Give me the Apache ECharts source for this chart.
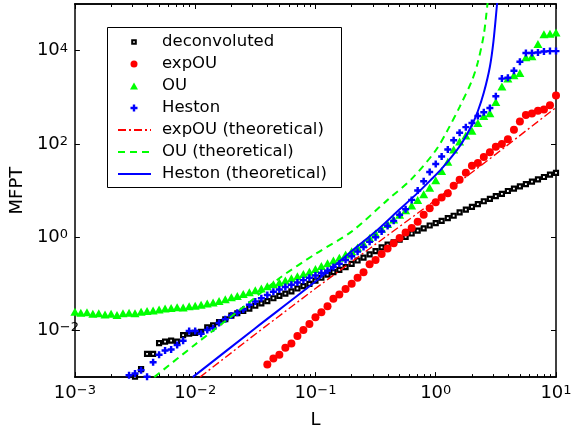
<!DOCTYPE html>
<html><head><meta charset="utf-8">
<script src="https://cdn.jsdelivr.net/npm/echarts@6/dist/echarts.min.js"></script>
<style>html,body{margin:0;padding:0;background:#fff}#c{width:579px;height:434px}</style>
</head><body><div id="c"></div>
<script>
// shared L grid (simulation points)
const L = [0.001,0.00112,0.00126,0.00141,0.00158,0.00178,0.002,0.00224,0.00251,0.00282,0.00316,0.00355,0.00398,0.00447,0.00501,0.00562,0.00631,0.00708,0.00794,0.00891,
0.01,0.0112,0.0126,0.0141,0.0158,0.0178,0.02,0.0224,0.0251,0.0282,0.0316,0.0355,0.0398,0.0447,0.0501,0.0562,0.0631,0.0708,0.0794,0.0891,
0.1,0.112,0.126,0.141,0.158,0.178,0.2,0.224,0.251,0.282,0.316,0.355,0.398,0.447,0.501,0.562,0.631,0.708,0.794,0.891,
1,1.12,1.26,1.41,1.58,1.78,2,2.24,2.51,2.82,3.16,3.55,3.98,4.47,5.01,5.62,6.31,7.08,7.94,8.91,10];

const deconvoluted = [null,null,null,null,null,null,null,null,null,null,
0.00102,0.00148,0.00316,0.00316,0.00537,0.00575,0.00603,0.00575,0.00794,0.00851,
0.00891,0.00933,0.0117,0.0129,0.0151,0.0174,0.0209,0.0234,0.0263,0.0295,
0.0339,0.0380,0.0427,0.0490,0.0550,0.0617,0.0692,0.0794,0.0891,0.100,
0.117,0.135,0.158,0.178,0.200,0.229,0.269,0.316,0.363,0.427,
0.501,0.603,0.692,0.776,0.891,1.02,1.20,1.38,1.55,1.78,
2.00,2.24,2.57,2.88,3.39,3.89,4.47,5.13,5.89,6.61,
7.59,8.51,9.77,11.0,12.3,13.8,15.5,17.4,19.5,21.9,24.0];

const expOU = [null,null,null,null,null,null,null,null,null,null,
null,null,null,null,null,null,null,null,null,null,
null,null,null,null,null,null,null,null,null,null,
null,null,0.00186,0.00251,0.00302,0.00427,0.00525,0.00759,0.0102,0.0138,
0.0191,0.0245,0.0331,0.0479,0.0589,0.0776,0.100,0.135,0.178,0.263,
0.324,0.437,0.575,0.741,0.955,1.26,1.58,2.14,3.02,4.17,
5.62,7.08,8.71,12.6,17.0,24.0,33.9,38.9,52.5,66.1,
87.1,100,126,200,302,417,447,513,550,676,1096];

const OU = [0.0251,0.0240,0.0245,0.0229,0.0234,0.0219,0.0229,0.0214,0.0234,0.0240,
0.0234,0.0251,0.0263,0.0269,0.0282,0.0295,0.0302,0.0316,0.0309,0.0331,
0.0339,0.0355,0.0380,0.0398,0.0427,0.0468,0.0513,0.0550,0.0603,0.0661,
0.0724,0.0794,0.0891,0.0977,0.107,0.118,0.132,0.145,0.162,0.182,
0.209,0.240,0.275,0.316,0.363,0.427,0.501,0.603,0.724,0.955,
1.20,1.51,1.91,2.40,3.02,3.80,4.79,6.31,8.32,11.5,
16.6,26.3,41.7,75.9,112,151,191,282,398,457,
794,1698,2512,2951,3311,7244,7586,13800,22390,22910,24550];

const Heston = [null,null,null,null,null,null,null,null,null,0.00110,
0.00120,0.00141,0.00102,0.00209,0.00302,0.00372,0.00389,0.00490,0.00603,0.00977,
0.00977,0.00851,0.0102,0.0112,0.0145,0.0174,0.0209,0.0240,0.0282,0.0355,
0.0417,0.0490,0.0575,0.0676,0.0759,0.0851,0.0955,0.107,0.120,0.135,
0.151,0.170,0.191,0.229,0.269,0.324,0.389,0.490,0.617,0.794,
1.00,1.32,1.74,2.24,3.02,3.98,6.31,10.0,15.8,25.1,
37.2,53.7,75.9,120,174,229,282,398,479,589,
1047,2512,2630,3715,5754,8913,8913,9120,9550,9772,9772];

// theoretical curves
const expOUTheoL = [0.01096,0.0316,0.1,0.316,1,3.162,10];
const expOUTheoM = [0.001,0.00832,0.0794,0.708,6.31,60.3,603];
const OUTheoL = [0.00457,0.01,0.0251,0.0501,0.1,0.1995,0.398,0.631,1,1.259,1.585,1.995,2.239,2.512,2.692,2.818];
const OUTheoM = [0.001,0.00501,0.0316,0.132,0.437,1.318,6.31,17.8,72.4,200,631,2239,5623,22390,100000,316200];
const HestonTheoL = [0.00955,0.0316,0.1,0.1995,0.316,0.479,0.708,0.912,1.122,1.413,1.66,1.995,2.239,2.512,2.818,3.02,3.236,3.388];
const HestonTheoM = [0.001,0.0112,0.112,0.501,1.32,3.55,8.91,17.0,29.5,60.3,107,251,501,1259,4467,15850,100000,316200];

// ticks
const xTickValues = [0.001,0.01,0.1,1,10];
const xTickExponents = ['\u22123','\u22122','\u22121','0','1'];
const yTickValues = [0.01,1,100,10000];
const yTickExponents = ['\u22122','0','2','4'];
const xMinorTicks = [];
for (let d = -3; d < 1; d++) for (let m = 2; m <= 9; m++) xMinorTicks.push(+(m * Math.pow(10, d)).toPrecision(3));

const FONT = 'DejaVu Sans';
const pairs = (xs, ys) => xs.map((x, i) => [x, ys[i]]).filter(p => p[1] != null);
const findIdx = (arr, v) => arr.findIndex(t => Math.abs(Math.log10(t) - Math.log10(v)) < 1e-6);
const rich = {
  b: {fontSize: 18, fontFamily: FONT, color: '#000', lineHeight: 18, verticalAlign: 'bottom'},
  s: {fontSize: 13, fontFamily: FONT, color: '#000', lineHeight: 13, verticalAlign: 'top', padding: [0, 0, 9, 0]}
};

const baseX = {type: 'log', logBase: 10, min: 0.001, max: 10, gridIndex: 0, splitLine: {show: false},
  axisLine: {onZero: false, lineStyle: {color: '#000', width: 1.5}}};
const baseY = {type: 'log', logBase: 10, min: 0.001, max: 100000, gridIndex: 0, splitLine: {show: false},
  axisLine: {onZero: false, lineStyle: {color: '#000', width: 1.5}}};

const plusPath = 'path://M2.6,0H5.4V2.6H8V5.4H5.4V8H2.6V5.4H0V2.6H2.6Z';

const option = {
  animation: false,
  backgroundColor: '#fff',
  textStyle: {fontFamily: FONT},
  grid: {left: 73, right: 23, top: 4, bottom: 50, containLabel: false},
  xAxis: [
    Object.assign({}, baseX, {position: 'bottom', name: 'L', nameLocation: 'middle', nameGap: 26,
      nameTextStyle: {fontSize: 18, fontFamily: FONT, color: '#000'},
      axisTick: {inside: true, length: 5, customValues: xTickValues, lineStyle: {color: '#000'}},
      axisLabel: {customValues: xTickValues, margin: 7, rich: rich,
        formatter: v => '{b|10}{s|' + xTickExponents[findIdx(xTickValues, v)] + '}'}}),
    Object.assign({}, baseX, {position: 'bottom',
      axisTick: {inside: true, length: 3, customValues: xMinorTicks, lineStyle: {color: '#000'}},
      axisLabel: {show: false}}),
    Object.assign({}, baseX, {position: 'top',
      axisTick: {inside: true, length: 5, customValues: xTickValues, lineStyle: {color: '#000'}},
      axisLabel: {show: false}}),
    Object.assign({}, baseX, {position: 'top',
      axisTick: {inside: true, length: 3, customValues: xMinorTicks, lineStyle: {color: '#000'}},
      axisLabel: {show: false}})
  ],
  yAxis: [
    Object.assign({}, baseY, {position: 'left', name: 'MFPT', nameLocation: 'middle', nameGap: 40,
      nameTextStyle: {fontSize: 18, fontFamily: FONT, color: '#000'},
      axisTick: {inside: true, length: 5, customValues: yTickValues, lineStyle: {color: '#000'}},
      axisLabel: {customValues: yTickValues, margin: 38, align: 'left', rich: rich,
        formatter: v => '{b|10}{s|' + yTickExponents[findIdx(yTickValues, v)] + '}'}}),
    Object.assign({}, baseY, {position: 'right',
      axisTick: {inside: true, length: 5, customValues: yTickValues, lineStyle: {color: '#000'}},
      axisLabel: {show: false}})
  ],
  graphic: [{type: 'rect', z: 3, silent: true, shape: {x: 107.5, y: 27.5, width: 234, height: 160},
    style: {fill: '#fff', stroke: '#000', lineWidth: 1}}],
  legend: [
    {orient: 'vertical', left: 128, top: 31, padding: 0, itemGap: 0, itemWidth: 10, itemHeight: 10,
     selectedMode: false, z: 5,
     textStyle: {fontSize: 16.5, fontFamily: FONT, color: '#000', lineHeight: 22, padding: [0, 0, 0, 18]},
     data: [
      {name: 'deconvoluted', icon: 'path://M0,0M10,10M3.2,3.2H6.8V6.8H3.2Z'},
      {name: 'expOU', icon: 'path://M0,0M10,10M1.5,5A3.5,3.5,0,1,1,8.5,5A3.5,3.5,0,1,1,1.5,5Z'},
      {name: 'OU', icon: 'path://M0,0M10,10M5,1.5L9,8.5H1Z'},
      {name: 'Heston', icon: 'path://M0,0M10,10M3.8,1.5H6.2V3.8H8.5V6.2H6.2V8.5H3.8V6.2H1.5V3.8H3.8Z'}
     ]},
    {orient: 'vertical', left: 117, top: 119, padding: 0, itemGap: 0, itemWidth: 33, itemHeight: 2,
     selectedMode: false, z: 5, itemStyle: {opacity: 0},
     textStyle: {fontSize: 16.5, fontFamily: FONT, color: '#000', lineHeight: 22, padding: [0, 0, 0, 6]},
     data: ['expOU (theoretical)', 'OU (theoretical)', 'Heston (theoretical)']}
  ],
  series: [
    {name: 'deconvoluted', type: 'scatter', xAxisIndex: 0, yAxisIndex: 0, data: pairs(L, deconvoluted),
     symbol: 'rect', symbolSize: 4, itemStyle: {color: '#fff', borderColor: '#000', borderWidth: 2.2, opacity: 1}, silent: true},
    {name: 'expOU', type: 'scatter', xAxisIndex: 0, yAxisIndex: 0, data: pairs(L, expOU),
     symbol: 'circle', symbolSize: 8, itemStyle: {color: '#ff0000', opacity: 1}, silent: true},
    {name: 'OU', type: 'scatter', xAxisIndex: 0, yAxisIndex: 0, data: pairs(L, OU),
     symbol: 'triangle', symbolSize: [9, 8], itemStyle: {color: '#00ff00', opacity: 1}, silent: true},
    {name: 'Heston', type: 'scatter', xAxisIndex: 0, yAxisIndex: 0, data: pairs(L, Heston),
     symbol: plusPath, symbolSize: 7, itemStyle: {color: '#0000ff', opacity: 1}, silent: true},
    {name: 'expOU (theoretical)', type: 'line', xAxisIndex: 0, yAxisIndex: 0, data: pairs(expOUTheoL, expOUTheoM),
     symbol: 'none', showSymbol: false, smooth: false, itemStyle: {color: '#ff0000'},
     lineStyle: {color: '#ff0000', width: 1.4, type: [8, 3, 2, 3]}, silent: true},
    {name: 'OU (theoretical)', type: 'line', xAxisIndex: 0, yAxisIndex: 0, data: pairs(OUTheoL, OUTheoM),
     symbol: 'none', showSymbol: false, smooth: 0.3, itemStyle: {color: '#00ff00'},
     lineStyle: {color: '#00ff00', width: 2, type: [7, 5]}, silent: true},
    {name: 'Heston (theoretical)', type: 'line', xAxisIndex: 0, yAxisIndex: 0, data: pairs(HestonTheoL, HestonTheoM),
     symbol: 'none', showSymbol: false, smooth: 0.3, itemStyle: {color: '#0000ff'},
     lineStyle: {color: '#0000ff', width: 2}, silent: true}
  ]
};
const chart = echarts.init(document.getElementById('c'), null, {renderer: 'canvas'});
chart.setOption(option);
</script>
</body></html>
